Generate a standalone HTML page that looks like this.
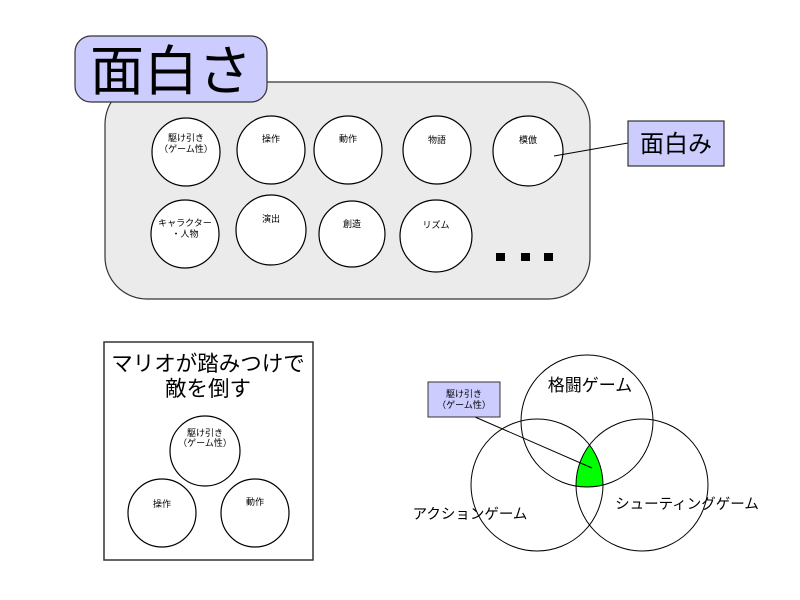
<!DOCTYPE html>
<html><head><meta charset="utf-8"><style>
html,body{margin:0;padding:0;background:#fff;}
svg{display:block;}
text{font-family:"Liberation Sans","Noto Sans CJK JP",sans-serif;fill:#000;}
</style></head><body>
<svg width="800" height="600" viewBox="0 0 800 600" xmlns="http://www.w3.org/2000/svg">
<defs>
<clipPath id="cL"><circle cx="537" cy="485" r="66"/></clipPath>
<clipPath id="cR"><circle cx="642" cy="485" r="66"/></clipPath>
</defs>
<rect x="105" y="82" width="485" height="217" rx="42" ry="42" fill="#ebebeb" stroke="#333" stroke-width="1.2"/>
<rect x="75" y="36" width="192" height="66" rx="16" ry="16" fill="#ccccff" stroke="#333" stroke-width="1.2"/>
<text x="171" y="90" font-size="54" text-anchor="middle">面白さ</text>
<g fill="#fff" stroke="#000" stroke-width="1.2">
<circle cx="186" cy="152" r="34"/>
<circle cx="271" cy="150" r="34"/>
<circle cx="348" cy="150" r="34"/>
<circle cx="437" cy="150" r="34"/>
<circle cx="528" cy="151" r="35"/>
<circle cx="185" cy="234" r="34"/>
<circle cx="271" cy="230" r="35"/>
<circle cx="352" cy="234" r="33"/>
<circle cx="436" cy="236" r="36"/>
</g>
<g font-size="9" text-anchor="middle">
<text x="186" y="141">駆け引き</text>
<text x="186" y="152">（ゲーム性）</text>
<text x="271" y="142">操作</text>
<text x="348" y="142">動作</text>
<text x="437" y="143">物語</text>
<text x="528" y="143">模倣</text>
<text x="185" y="226">キャラクター</text>
<text x="185" y="237">・人物</text>
<text x="271" y="222">演出</text>
<text x="352" y="227">創造</text>
<text x="436" y="228">リズム</text>
</g>
<rect x="496" y="253" width="9" height="8" fill="#000"/>
<rect x="521" y="253" width="9" height="8" fill="#000"/>
<rect x="544" y="253" width="9" height="8" fill="#000"/>
<line x1="554" y1="156" x2="628" y2="143" stroke="#000" stroke-width="1"/>
<rect x="628" y="121" width="96" height="45" fill="#ccccff" stroke="#333" stroke-width="1.2"/>
<text x="676" y="152" font-size="24" text-anchor="middle">面白み</text>

<rect x="104" y="342" width="209" height="218" fill="#fff" stroke="#333" stroke-width="1.5"/>
<text x="208" y="371" font-size="21.5" text-anchor="middle">マリオが踏みつけで</text>
<text x="208" y="396" font-size="21.5" text-anchor="middle">敵を倒す</text>
<g fill="#fff" stroke="#000" stroke-width="1.2">
<circle cx="205" cy="451" r="35"/>
<circle cx="162" cy="513" r="34"/>
<circle cx="255" cy="513" r="34"/>
</g>
<g font-size="9" text-anchor="middle">
<text x="205" y="436">駆け引き</text>
<text x="205" y="446">（ゲーム性）</text>
<text x="162" y="507">操作</text>
<text x="255" y="505">動作</text>
</g>

<g clip-path="url(#cL)"><g clip-path="url(#cR)"><circle cx="587" cy="421" r="66" fill="#00ff00"/></g></g>
<g fill="none" stroke="#000" stroke-width="1">
<circle cx="587" cy="421" r="66"/>
<circle cx="537" cy="485" r="66"/>
<circle cx="642" cy="485" r="66"/>
</g>
<line x1="475" y1="417" x2="592" y2="468" stroke="#000" stroke-width="1"/>
<rect x="428" y="382" width="72" height="35" fill="#ccccff" stroke="#333" stroke-width="1"/>
<text x="464" y="397" font-size="9" text-anchor="middle">駆け引き</text>
<text x="464" y="408" font-size="9" text-anchor="middle">（ゲーム性）</text>
<text x="590" y="391" font-size="17" text-anchor="middle">格闘ゲーム</text>
<text x="470" y="519" font-size="14.5" text-anchor="middle">アクションゲーム</text>
<text x="687" y="509" font-size="14.5" text-anchor="middle">シューティングゲーム</text>
</svg>
</body></html>
